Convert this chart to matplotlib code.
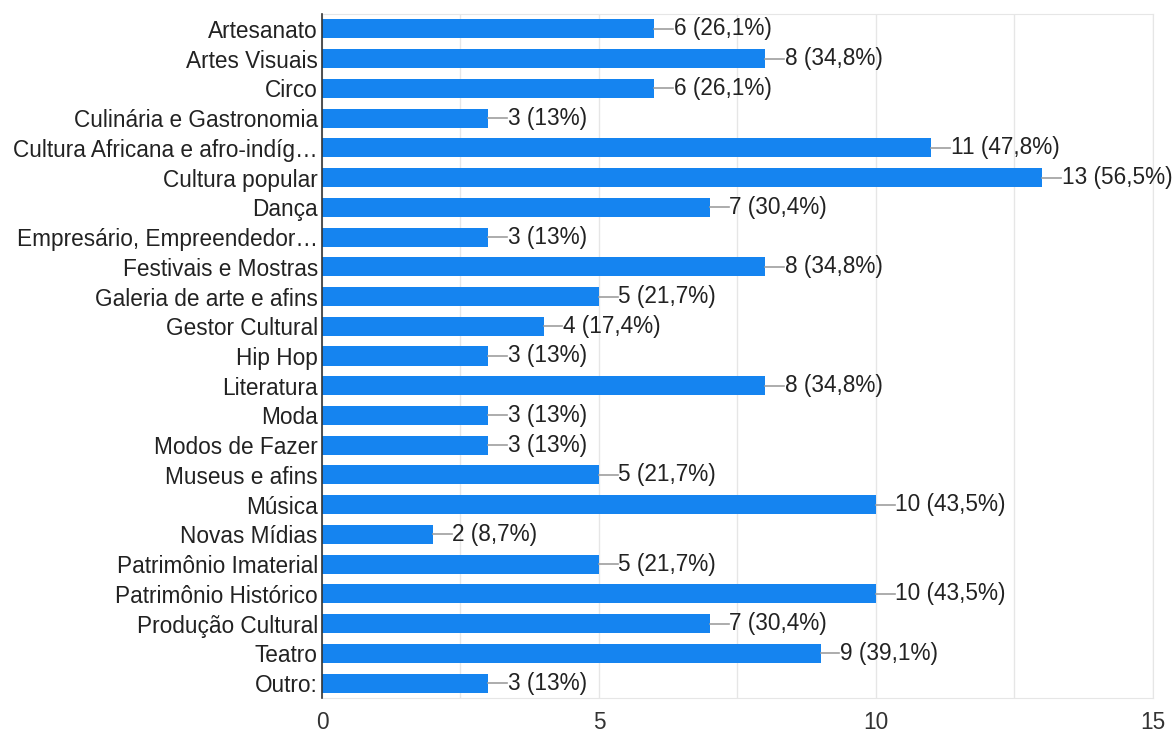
import matplotlib
matplotlib.use('agg')
import matplotlib.pyplot as plt
import numpy as np

## Data
categories = ["Artesanato", "Artes Visuais", "Circo", "Culinária e Gastronomia",
              "Cultura Africana e afro-indíg…", "Cultura popular", "Dança",
              "Empresário, Empreendedor…", "Festivais e Mostras", "Galeria de arte e afins",
              "Gestor Cultural", "Hip Hop", "Literatura", "Moda", "Modos de Fazer",
              "Museus e afins", "Música", "Novas Mídias", "Patrimônio Imaterial",
              "Patrimônio Histórico", "Produção Cultural", "Teatro", "Outro:"]
counts = [6, 8, 6, 3, 11, 13, 7, 3, 8, 5, 4, 3, 8, 3, 3, 5, 10, 2, 5, 10, 7, 9, 3]
pct_labels = ["26,1%", "34,8%", "26,1%", "13%", "47,8%", "56,5%", "30,4%", "13%",
              "34,8%", "21,7%", "17,4%", "13%", "34,8%", "13%", "13%", "21,7%",
              "43,5%", "8,7%", "21,7%", "43,5%", "30,4%", "39,1%", "13%"]
major_ticks = [0, 5, 10, 15]

plt.rcParams['font.family'] = ['Liberation Sans', 'DejaVu Sans']
fs = 16.3

fig = plt.figure(figsize=(11.76, 7.34), dpi=100)
ax = fig.add_axes([0.2738, 0.049, 0.7066, 0.932])

y = np.arange(len(categories))
ax.barh(y, counts, height=0.64, color='#1584f0', zorder=3)

for yi, c, p in zip(y, counts, pct_labels):
    ax.plot([c, c + 0.34], [yi, yi], color='#9e9e9e', lw=1.2, zorder=3)
    ax.text(c + 0.35, yi, f"{c} ({p})", va='center', ha='left',
            fontsize=fs, color='#222222', zorder=4)

ax.set_xlim(0, 15)
ax.set_ylim(len(categories) - 0.5, -0.5)
ax.set_xticks(major_ticks)
ax.set_xticks(np.arange(0, 15.1, 2.5), minor=True)
ax.set_yticks(y)
ax.set_yticklabels(categories)
ax.tick_params(axis='y', length=0, pad=3, labelsize=fs, labelcolor='#222222')
ax.tick_params(axis='x', which='both', length=0, pad=9, labelsize=fs, labelcolor='#333333')
ax.grid(True, axis='x', which='both', color='#e6e6e6', lw=1, zorder=0)

for s in ['top', 'bottom', 'right']:
    ax.spines[s].set_color('#e6e6e6')
ax.spines['left'].set_color('#333333')
ax.spines['left'].set_linewidth(1.2)
ax.spines['left'].set_zorder(5)

fig.savefig('out.png', dpi=100)
